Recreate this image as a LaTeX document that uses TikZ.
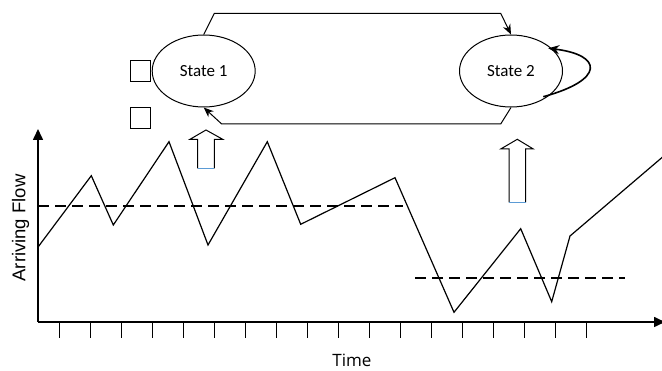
\documentclass[tikz,border=0pt]{standalone}
\usepackage{fontspec}
\setmainfont{Carlito}
\newfontfamily\labfont{Liberation Sans}
\newfontfamily\timefont{Open Sans}
\usetikzlibrary{shapes.geometric,arrows.meta}
\definecolor{mblue}{HTML}{5B9BD5}
\tikzset{
  statebox/.style={ellipse,draw,line width=1pt,minimum width=103pt,minimum height=72pt,inner sep=0pt,font=\fontsize{17}{19}\selectfont},
  conn/.style={line width=1pt,-{Stealth[length=10pt,width=8pt]}},
  sq/.style={draw,line width=1pt,minimum size=20.5pt,inner sep=0pt},
  axis/.style={line width=1.6pt},
  tickl/.style={line width=1.4pt},
  flow/.style={line width=1.2pt,line join=miter},
  thr/.style={line width=1.6pt,dash pattern=on 11pt off 6pt},
  blockarr/.style={line width=1pt,line join=miter}
}
\begin{document}
\begin{tikzpicture}[x=1pt,y=-1pt]
\useasboundingbox (0,0) rectangle (662,371);
\clip (0,0) rectangle (662,371);
% states
\node[statebox] (s1) at (203.7,71) {State 1};
\node[statebox] (s2) at (511,71) {State 2};
\node[sq] (q1) at (140.3,71.2) {};
\node[sq] (q2) at (140.3,117.8) {};
% connectors
\coordinate (t1) at (214.3,13.3);
\coordinate (t2) at (500.7,13.3);
\coordinate (b1) at (500.7,124);
\coordinate (b2) at (221.7,124);
\draw[conn] (s1.north) -- (t1) -- (t2) -- (s2.north);
\draw[conn] (s2.south) -- (b1) -- (b2) -- (s1.south);
\coordinate (l1) at (543.3,96.7);
\coordinate (l2) at (548.3,48.3);
\draw[line width=1.6pt,-{Stealth[length=11pt,width=9pt]}] (l1) .. controls (605,80) and (603,55) .. (l2);
% block arrows
\draw[blockarr] (197.7,168.3) -- (197.7,139.3) -- (190,139.3) -- (206,130) -- (222.7,139.3) -- (214.3,139.3) -- (214.3,168.3);
\draw[mblue,line width=1.3pt] (197.7,168.3) -- (214.3,168.3);
\draw[blockarr] (509,202.3) -- (509,149) -- (500.7,149) -- (517.3,139.3) -- (533.3,149) -- (525.7,149) -- (525.7,202.3);
\draw[mblue,line width=1.3pt] (509,202.3) -- (525.7,202.3);
% axes
\coordinate (o) at (38,322);
\coordinate (ytop) at (38,129);
\coordinate (xend) at (665,322);
\draw[axis,-{Triangle[length=11pt,width=10pt]}] (o) -- (ytop);
\draw[axis,-{Triangle[length=11pt,width=10pt]}] (o) -- (xend);
\foreach \k in {0,...,17} {
  \draw[tickl] (59.3+31*\k,322) -- (59.3+31*\k,338);
}
% thresholds
\draw[thr] (38,206) -- (402.7,206);
\draw[thr] (415,278) -- (625,278);
% flow
\draw[flow] (38.3,246.7) -- (91.3,175.7) -- (113.3,225) -- (169,141.7) -- (208,245) -- (267.3,141.7) -- (300.7,224.3) -- (395,177.7) -- (454,312.3) -- (520.7,228.7) -- (551.7,301.7) -- (570,236) -- (672,149);
% labels
\node[rotate=90,font=\labfont\fontsize{18.5}{20}\selectfont] (yl) at (20.5,228) {Arriving Flow};
\node[font=\timefont\fontsize{17}{19}\selectfont] (xl) at (352,360) {Time};
\end{tikzpicture}
\end{document}
